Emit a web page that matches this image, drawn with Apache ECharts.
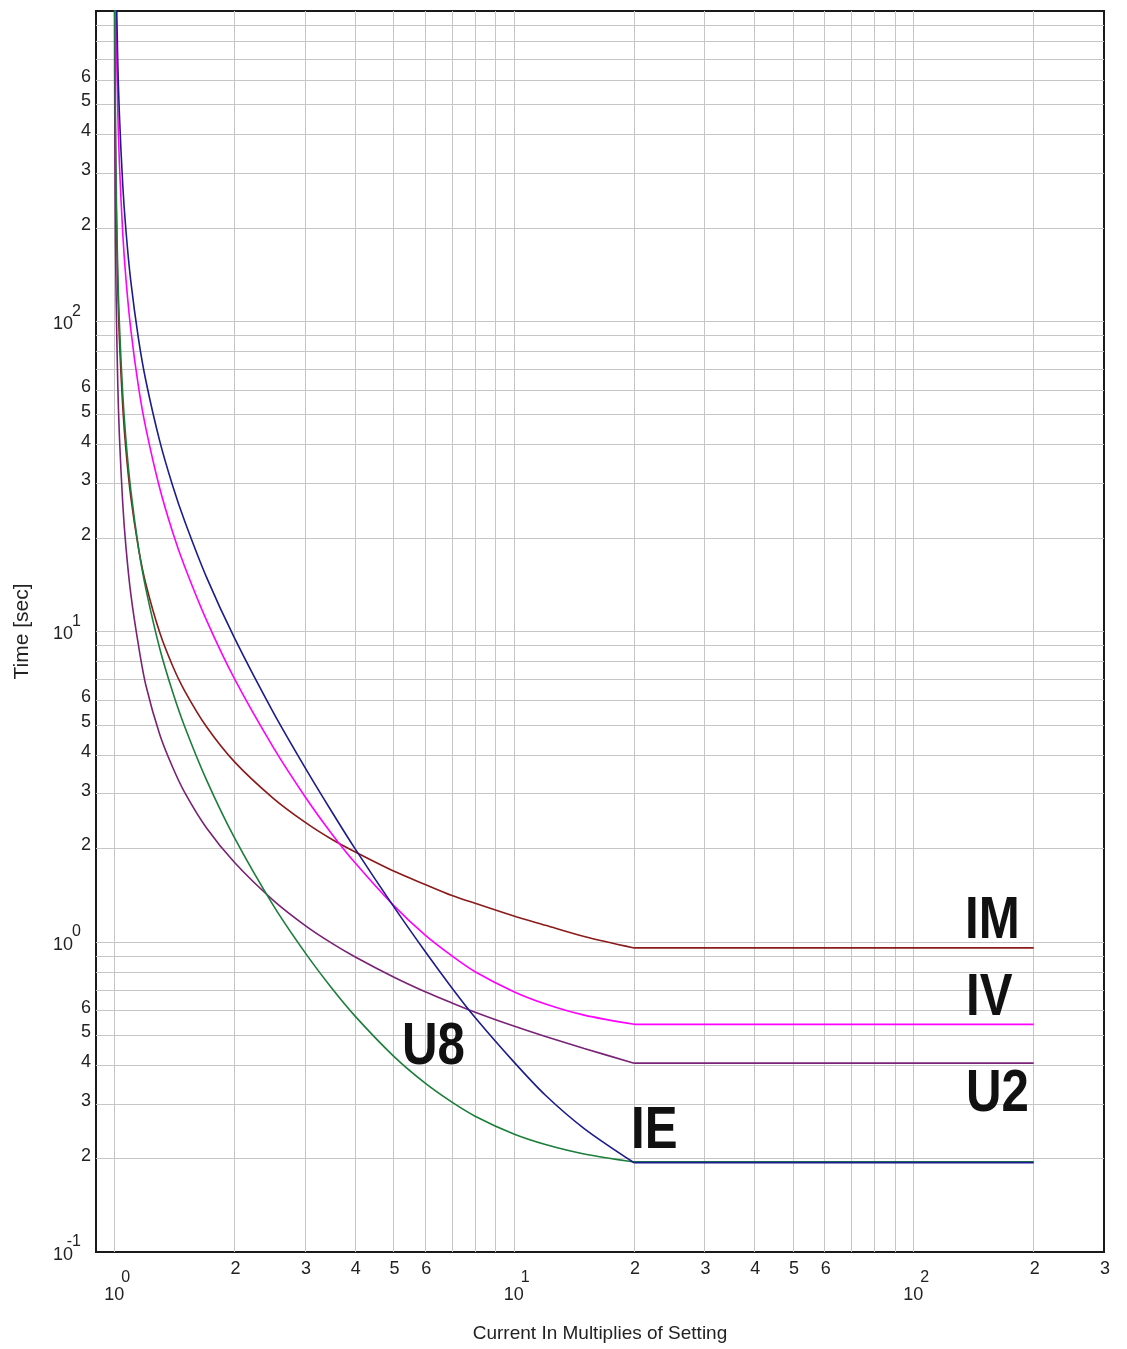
<!DOCTYPE html>
<html>
<head>
<meta charset="utf-8">
<script src="https://cdn.jsdelivr.net/npm/echarts@6/dist/echarts.min.js"></script>
<style>
html, body { margin: 0; padding: 0; background: #fff; }
#main { width: 1127px; height: 1349px; }
</style>
</head>
<body>
<div id="main"></div>
<script>
var myChart = echarts.init(document.getElementById('main'));

// current in multiples of setting (x) - same samples for every curve
var current = [1.001, 1.002, 1.005, 1.01, 1.02, 1.03, 1.05, 1.07, 1.1, 1.15, 1.2, 1.3, 1.4, 1.5, 1.7,
               2, 2.5, 3, 3.5, 4, 5, 6, 7, 8, 10, 12, 15, 20];
// the curves stay flat from 20x up to 200x
var flatFrom = 20;
var flatTo = 200;

// trip time [sec], one list per curve
var timeIE = [14100, 7050, 2813, 1403, 698, 463, 275, 194.7, 134.4, 87.6, 64.2, 41.0, 29.5, 22.7, 15.0,
              9.52, 5.49, 3.65, 2.63, 2.00, 1.30, 0.93, 0.71, 0.57, 0.41, 0.32, 0.25, 0.194];
var timeIV = [9800, 4900, 1956, 976, 486, 322, 192, 136, 94, 61.3, 45.1, 28.9, 20.9, 16.2, 10.9,
              7.03, 4.23, 2.94, 2.23, 1.80, 1.31, 1.05, 0.90, 0.80, 0.69, 0.63, 0.58, 0.542];
var timeIM = [2575, 1287, 516, 259, 130, 87.3, 52.9, 38.2, 27.1, 18.5, 14.2, 9.9, 7.74, 6.44, 4.94,
              3.80, 2.90, 2.43, 2.14, 1.95, 1.69, 1.53, 1.41, 1.33, 1.21, 1.13, 1.04, 0.955];
var timeU8 = [2975, 1486, 594, 296, 147.5, 97.9, 58.2, 41.2, 28.5, 18.6, 13.7, 8.80, 6.38, 4.94, 3.33,
              2.16, 1.31, 0.924, 0.709, 0.577, 0.428, 0.350, 0.304, 0.274, 0.240, 0.222, 0.207, 0.195];
var timeU2 = [1260, 630, 252, 127, 63.6, 42.6, 25.8, 18.6, 13.2, 9.0, 6.7, 4.65, 3.65, 3.03, 2.33,
              1.80, 1.36, 1.13, 0.99, 0.895, 0.77, 0.69, 0.635, 0.593, 0.535, 0.495, 0.453, 0.406];

// grid lines and tick labels
var xGridValues = [1, 2, 3, 4, 5, 6, 7, 8, 9, 10, 20, 30, 40, 50, 60, 70, 80, 90, 100, 200];
var yGridValues = [0.2, 0.3, 0.4, 0.5, 0.6, 0.7, 0.8, 0.9, 1, 2, 3, 4, 5, 6, 7, 8, 9, 10,
                   20, 30, 40, 50, 60, 70, 80, 90, 100, 200, 300, 400, 500, 600, 700, 800, 900];
var xMinorTicks = [2, 3, 4, 5, 6, 20, 30, 40, 50, 60, 200, 300];
var xMinorTickLabels = ['2', '3', '4', '5', '6', '2', '3', '4', '5', '6', '2', '3'];
var xDecades = [1, 10, 100];
var xDecadeExp = ['0', '1', '2'];
var yMinorTicks = [0.2, 0.3, 0.4, 0.5, 0.6, 2, 3, 4, 5, 6, 20, 30, 40, 50, 60, 200, 300, 400, 500, 600];
var yMinorTickLabels = ['2', '3', '4', '5', '6', '2', '3', '4', '5', '6', '2', '3', '4', '5', '6', '2', '3', '4', '5', '6'];
var yDecades = [0.1, 1, 10, 100];
var yDecadeExp = ['-1', '0', '1', '2'];

function pairs(ys) {
    return current.map(function (x, i) { return [x, ys[i]]; });
}

// the inverse part is smoothed, the definite-time tail is a straight line
function curve(name, color, ys) {
    var last = ys[ys.length - 1];
    return [{
        name: name,
        type: 'line',
        data: pairs(ys),
        showSymbol: false,
        smooth: 0.3,
        clip: true,
        z: 5,
        lineStyle: { color: color, width: 1.6 },
        itemStyle: { color: color }
    }, {
        name: name,
        type: 'line',
        data: [[flatFrom, last], [flatTo, last]],
        showSymbol: false,
        clip: true,
        z: 5,
        lineStyle: { color: color, width: 1.8 },
        itemStyle: { color: color }
    }];
}

var gridLines = xGridValues.map(function (v) { return { xAxis: v }; })
    .concat(yGridValues.map(function (v) { return { yAxis: v }; }));

var fontFamily = '"Liberation Sans", Arial, sans-serif';

option = {
    animation: false,
    backgroundColor: '#fff',
    grid: {
        left: 96, right: 23, top: 11, bottom: 97,
        containLabel: false,
        outerBoundsMode: 'none',
        show: true,
        borderColor: '#1a1a1a',
        borderWidth: 2
    },
    xAxis: {
        type: 'log',
        min: 0.9,
        max: 300,
        name: 'Current In Multiplies of Setting',
        nameLocation: 'middle',
        nameGap: 72,
        nameTextStyle: { fontSize: 19, color: '#222', fontFamily: fontFamily },
        axisLine: { show: false },
        axisTick: { show: false },
        axisLabel: { show: false },
        splitLine: { show: false }
    },
    yAxis: {
        type: 'log',
        min: 0.1,
        max: 1000,
        name: 'Time [sec]',
        nameLocation: 'middle',
        nameGap: 63,
        nameTextStyle: { fontSize: 21, color: '#222', fontFamily: fontFamily },
        axisLine: { show: false },
        axisTick: { show: false },
        axisLabel: { show: false },
        splitLine: { show: false }
    },
    series: [
        {
            name: 'grid',
            type: 'line',
            data: [[1, 1]],
            showSymbol: false,
            lineStyle: { opacity: 0 },
            z: 1,
            silent: true,
            markLine: {
                silent: true,
                symbol: ['none', 'none'],
                label: { show: false },
                lineStyle: { color: '#c6c6c6', width: 1, type: 'solid' },
                emphasis: { disabled: true },
                data: gridLines
            }
        }
    ].concat(
        curve('IM', '#8b1a1a', timeIM),
        curve('U2', '#7a2277', timeU2),
        curve('U8', '#1b7f3a', timeU8),
        curve('IV', '#ff00ff', timeIV),
        curve('IE', '#1c1c8c', timeIE)
    )
};
myChart.setOption(option);

// tick labels placed through the axes' own scales
function px(v) { return myChart.convertToPixel({ xAxisIndex: 0 }, v); }
function py(v) { return myChart.convertToPixel({ yAxisIndex: 0 }, v); }

var axisLeft = px(0.9);
var axisBottom = py(0.1);
var elements = [];

function txt(s, x, y, size, align) {
    elements.push({
        type: 'text', x: x, y: y, silent: true, z: 10,
        style: {
            text: s, fill: '#222', font: size + 'px ' + fontFamily,
            align: align, verticalAlign: 'middle'
        }
    });
}

xMinorTicks.forEach(function (v, i) {
    txt(xMinorTickLabels[i], px(v) + 1, axisBottom + 17, 18, 'center');
});
xDecades.forEach(function (v, i) {
    txt('10', px(v), axisBottom + 43, 18, 'center');
    txt(xDecadeExp[i], px(v) + 7, axisBottom + 26, 16, 'left');
});
yMinorTicks.forEach(function (v, i) {
    txt(yMinorTickLabels[i], axisLeft - 5, py(v) - 3, 18, 'right');
});
yDecades.forEach(function (v, i) {
    txt('10', axisLeft - 23, py(v) + 3, 18, 'right');
    txt(yDecadeExp[i], axisLeft - 15, py(v) - 10, 16, 'right');
});

// curve names
var curveNames = [
    { text: 'IM', x: 965, y: 921 },
    { text: 'IV', x: 966, y: 998 },
    { text: 'U2', x: 966, y: 1094 },
    { text: 'U8', x: 402, y: 1047 },
    { text: 'IE', x: 631, y: 1131 }
];
curveNames.forEach(function (c) {
    elements.push({
        type: 'text', x: c.x, y: c.y, scaleX: 0.82, silent: true, z: 10,
        style: {
            text: c.text, fill: '#111', font: 'bold 60px ' + fontFamily,
            align: 'left', verticalAlign: 'middle'
        }
    });
});

myChart.setOption({ graphic: { elements: elements } });
</script>
</body>
</html>
